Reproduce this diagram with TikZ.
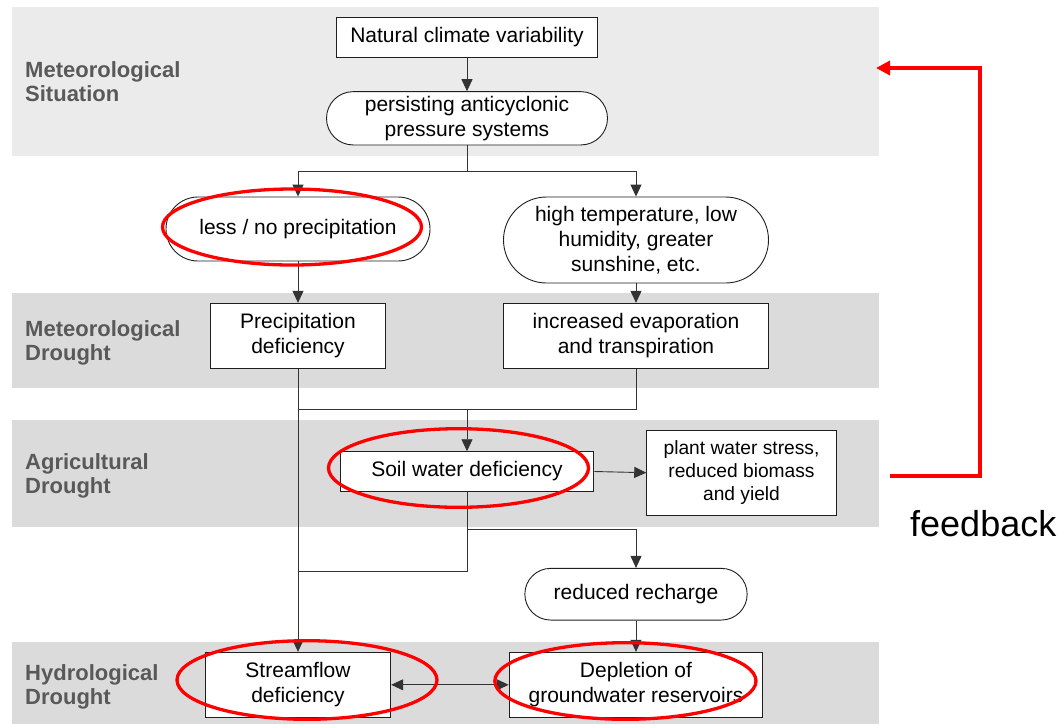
\documentclass[tikz,border=0pt]{standalone}
\usepackage{fontspec}
\setmainfont{Liberation Sans}
\usetikzlibrary{arrows.meta}
\begin{document}
\begin{tikzpicture}[x=1pt,y=-1pt,
  box/.style={draw=black!88,fill=white,line width=0.9pt,inner sep=0pt,align=center,
    font=\fontsize{21}{25}\selectfont},
  stadium/.style={box,rounded corners=#1},
  lbl/.style={font=\fontsize{22}{24.5}\selectfont\bfseries,text=black!65,align=left,
    inner sep=0pt,anchor=base west},
  ln/.style={draw=black!80,line width=0.9pt},
  arr/.style={ln,-{Triangle[length=12pt,width=11pt]}},
  redline/.style={draw=red,line width=3.3pt},
]
\useasboundingbox (0,0) rectangle (1061,724);
% bands
\fill[black!8] (12,7.3) rectangle (879,155.7);
\fill[black!14] (12,292.7) rectangle (879,387.7);
\fill[black!14] (12,420) rectangle (879,526.7);
\fill[black!14] (12,641.7) rectangle (879,724);
% labels (base = last line)
\node[lbl] (l1) at (25,101.8) {Meteorological\\Situation};
\node[lbl] (l2) at (25,360.8) {Meteorological\\Drought};
\node[lbl] (l3) at (25,493.5) {Agricultural\\Drought};
\node[lbl] (l4) at (25,704.5) {Hydrological\\Drought};
% nodes
\node[box,minimum width=261,minimum height=40] (nat) at (467,37.3) {Natural climate variability};
\node[stadium=26.6,minimum width=281,minimum height=53.3] (pers) at (467,118.3) {persisting anticyclonic\\pressure systems};
\node[stadium=32,minimum width=264,minimum height=64] (less) at (298,229) {less / no precipitation};
\node[stadium=43,minimum width=265,minimum height=86] (high) at (636,240) {high temperature, low\\humidity, greater\\sunshine, etc.};
\node[box,minimum width=175,minimum height=65.4] (prec) at (298,336) {Precipitation\\deficiency};
\node[box,minimum width=264.5,minimum height=65.4] (evap) at (636,336) {increased evaporation\\and transpiration};
\node[box,minimum width=253.7,minimum height=39.6] (soil) at (467,471.5) {Soil water deficiency};
\node[box,minimum width=189.6,minimum height=85.3,font=\fontsize{19.2}{23}\selectfont] (plant) at (741.5,472.7) {plant water stress,\\reduced biomass\\and yield};
\node[stadium=25.8,minimum width=222.3,minimum height=51.7] (rech) at (636,594.2) {reduced recharge};
\node[box,minimum width=185.5,minimum height=65] (stream) at (298,684.8) {Streamflow\\deficiency};
\node[box,minimum width=253.7,minimum height=65] (depl) at (636,684.8) {Depletion of\\groundwater reservoirs};
% connectors
\draw[arr] (nat.south) -- (pers.north);
\coordinate (b1) at (467,171);
\draw[ln] (pers.south) -- (b1);
\draw[arr] (b1) -| (less.north);
\draw[arr] (b1) -| (high.north);
\draw[arr] (less.south) -- (prec.north);
\draw[arr] (high.south) -- (evap.north);
\draw[arr] (prec.south) -- (stream.north);
\coordinate (m) at (467,409.3);
\draw[ln] (evap.south) |- (prec.south |- m);
\draw[arr] (m) -- (soil.north);
\coordinate (s1) at (467,529);
\coordinate (s2) at (467,571.7);
\draw[ln] (soil.south) -- (s2) -- (prec.south |- s2);
\draw[arr] (s1) -| (rech.north);
\draw[arr] (rech.south) -- (depl.north);
\draw[arr] (soil.east) -- (plant.west);
\draw[ln,{Triangle[length=12pt,width=11pt]}-{Triangle[length=12pt,width=11pt]}] (stream.east) -- (depl.west);
% red highlights
\draw[redline] (292,227) ellipse [x radius=129.5, y radius=38];
\draw[redline] (458.5,468) ellipse [x radius=130, y radius=39.3];
\draw[redline] (307,680) ellipse [x radius=130, y radius=39.3];
\draw[redline] (625.4,681) ellipse [x radius=130.6, y radius=38.3];
% feedback
\coordinate (f1) at (890,476);
\coordinate (f2) at (980,476);
\coordinate (f3) at (980,68);
\coordinate (f4) at (876,68);
\draw[redline,line width=3.5pt,-{Triangle[length=14pt,width=14pt]}] (f1) -- (f2) -- (f3) -- (f4);
\node[font=\fontsize{36}{40}\selectfont,inner sep=0pt,anchor=base west] (fb) at (910,536.7) {feedback};
\end{tikzpicture}
\end{document}
